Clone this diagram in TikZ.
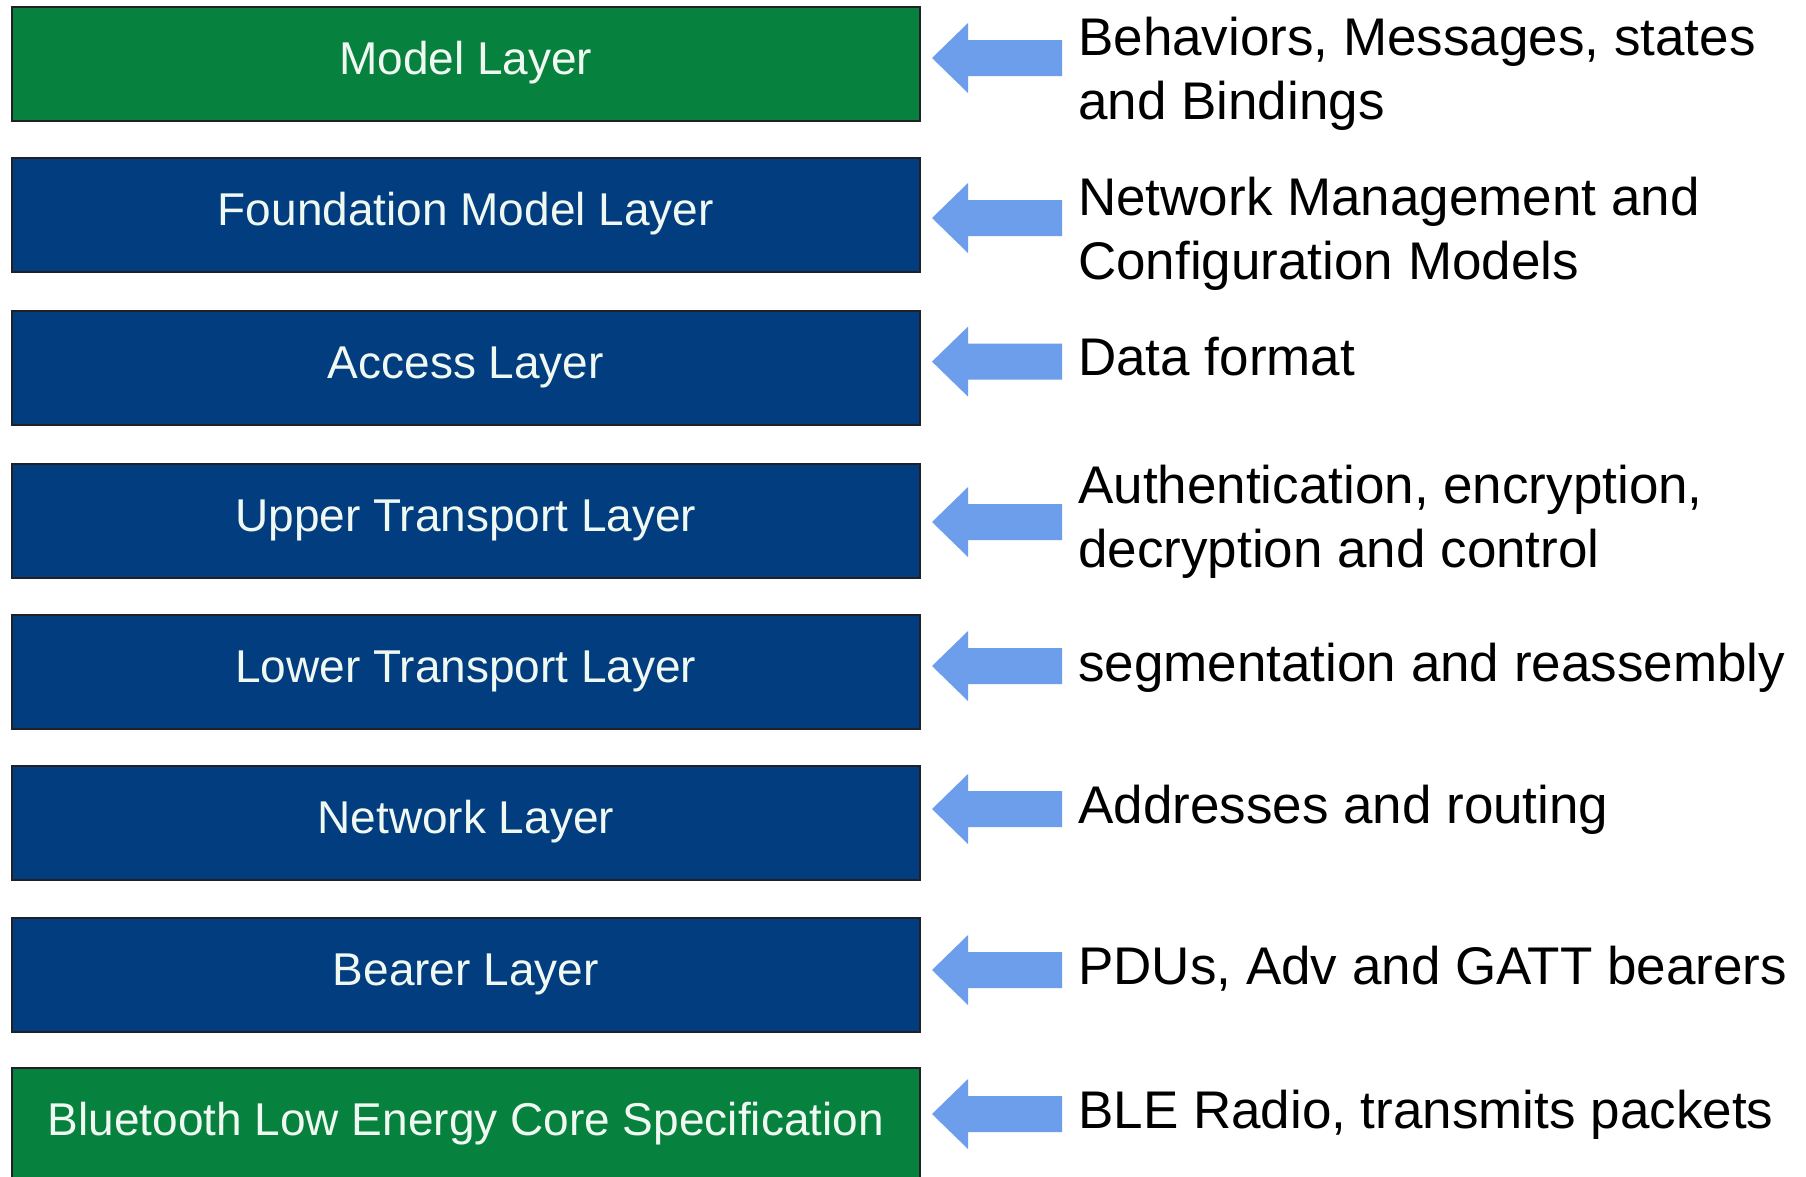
\documentclass[tikz,border=0pt]{standalone}
\usepackage{fontspec}
\setmainfont{Liberation Sans}
\definecolor{layergreen}{RGB}{7,130,62}
\definecolor{layerblue}{RGB}{1,61,127}
\definecolor{pointerblue}{RGB}{109,158,235}
\definecolor{layertext}{RGB}{240,248,242}
\definecolor{edgedark}{RGB}{30,34,38}
\begin{document}
\begin{tikzpicture}[x=1pt,y=-1pt,
  layerbox/.style={draw=edgedark, line width=1.6pt, minimum width=908pt,
    minimum height=114pt, inner sep=0pt, anchor=north west,
    text=layertext, font=\fontsize{46}{55}\selectfont,
    text height=30pt, text depth=9pt},
  greenbox/.style={layerbox, fill=layergreen},
  bluebox/.style={layerbox, fill=layerblue},
  note/.style={anchor=base west, inner sep=0pt, align=left,
    font=\fontsize{53}{63.5}\selectfont, text=black},
  pointer/.pic={\fill[pointerblue] (0,0) -- (36,-35) -- (36,-18) -- (130,-18)
    -- (130,18) -- (36,18) -- (36,35) -- cycle;}]
\useasboundingbox (0,0) rectangle (1806,1176);
\fill[white] (0,0) rectangle (1806,1176);

% protocol stack
\node[greenbox] (model)  at (11,6)    {Model Layer};
\node[bluebox]  (found)  at (11,157)  {Foundation Model Layer};
\node[bluebox]  (access) at (11,310)  {Access Layer};
\node[bluebox]  (upper)  at (11,463)  {Upper Transport Layer};
\node[bluebox]  (lower)  at (11,614)  {Lower Transport Layer};
\node[bluebox]  (net)    at (11,765)  {Network Layer};
\node[bluebox]  (bearer) at (11,917)  {Bearer Layer};
\node[greenbox] (ble)    at (11,1067) {Bluetooth Low Energy Core Specification};

% block arrows pointing at each layer
\foreach \y in {58,218,361.6,522,666,809,970,1114}
  \pic at (932,\y) {pointer};

% descriptions (base = baseline of the last line)
\node[note] (dmodel)  at (1078,119)  {Behaviors, Messages, states\\and Bindings};
\node[note] (dfound)  at (1078,279)  {Network Management and\\Configuration Models};
\node[note] (daccess) at (1078,375)  {Data format};
\node[note] (dupper)  at (1078,567)  {Authentication, encryption,\\decryption and control};
\node[note] (dlower)  at (1078,681)  {segmentation and reassembly};
\node[note] (dnet)    at (1078,823)  {Addresses and routing};
\node[note] (dbearer) at (1078,984)  {PDUs, Adv and GATT bearers};
\node[note] (dble)    at (1078,1128) {BLE Radio, transmits packets};
\end{tikzpicture}
\end{document}
